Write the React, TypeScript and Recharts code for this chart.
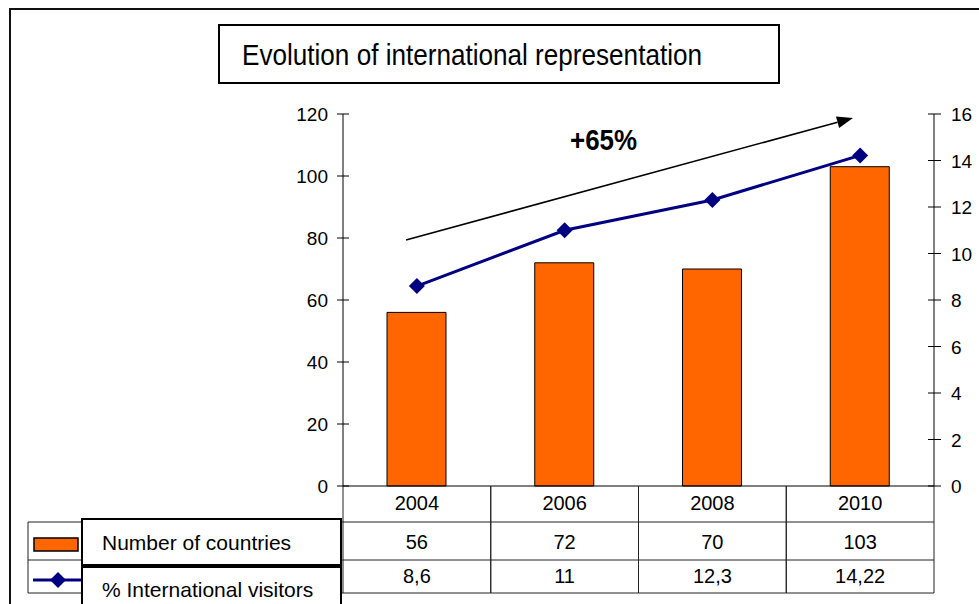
import React from "react";
import {
  ComposedChart,
  Bar,
  Line,
  XAxis,
  YAxis,
  Customized,
} from "recharts";

const years = ["2004", "2006", "2008", "2010"];
const countries = [56, 72, 70, 103];
const visitors = [8.6, 11, 12.3, 14.22];
const leftTicks = [0, 20, 40, 60, 80, 100, 120];
const rightTicks = [0, 2, 4, 6, 8, 10, 12, 14, 16];

const data = years.map((year, i) => ({
  year,
  countries: countries[i],
  visitors: visitors[i],
}));

const W = 979;
const H = 604;
const PLOT_LEFT = 343;
const PLOT_RIGHT = 934;
const PLOT_TOP = 114;
const PLOT_BOTTOM = 486;
const BAND = (PLOT_RIGHT - PLOT_LEFT) / years.length;
const ROW1 = 522;
const ROW2 = 560;
const ROW3 = 593;
const FONT = "'Liberation Sans', Arial, sans-serif";
const ORANGE = "#FF6600";
const NAVY = "#000080";
const LINE_COLOR = "#222";

const fmt = (v: number) => String(v).replace(".", ",");

const LeftTick = (props: any) => {
  const { y, payload } = props;
  return (
    <g>
      <line x1={PLOT_LEFT - 6} x2={PLOT_LEFT + 6} y1={y} y2={y} stroke="#000" />
      <text x={328} y={y} dy={7} textAnchor="end" fontSize={19} fill="#000" fontFamily={FONT}>
        {payload.value}
      </text>
    </g>
  );
};

const RightTick = (props: any) => {
  const { y, payload } = props;
  return (
    <g>
      <line x1={PLOT_RIGHT - 6} x2={PLOT_RIGHT + 7} y1={y} y2={y} stroke="#000" />
      <text x={951} y={y} dy={7} textAnchor="start" fontSize={19} fill="#000" fontFamily={FONT}>
        {payload.value}
      </text>
    </g>
  );
};

// each x tick draws its column of the data table
const TableTick = (props: any) => {
  const { x, index } = props;
  const left = x - BAND / 2;
  const right = x + BAND / 2;
  return (
    <g fontFamily={FONT} fontSize={20} fill="#000">
      <line x1={left} x2={left} y1={PLOT_BOTTOM} y2={ROW3} stroke={LINE_COLOR} />
      <line x1={right} x2={right} y1={PLOT_BOTTOM} y2={ROW3} stroke={LINE_COLOR} />
      <line x1={left} x2={right} y1={ROW1} y2={ROW1} stroke={LINE_COLOR} />
      <line x1={left} x2={right} y1={ROW2} y2={ROW2} stroke={LINE_COLOR} />
      <line x1={left} x2={right} y1={ROW3} y2={ROW3} stroke={LINE_COLOR} />
      <text x={x} y={510} textAnchor="middle">{years[index]}</text>
      <text x={x} y={549} textAnchor="middle">{countries[index]}</text>
      <text x={x} y={583} textAnchor="middle">{fmt(visitors[index])}</text>
    </g>
  );
};

const Diamond = (props: any) => {
  const { cx, cy, index } = props;
  const r = 8;
  return (
    <polygon
      key={`d-${index}`}
      points={`${cx},${cy - r} ${cx + r},${cy} ${cx},${cy + r} ${cx - r},${cy}`}
      fill={NAVY}
    />
  );
};

const Decor = () => {
  const ax = 406;
  const ay = 240;
  const bx = 853;
  const by = 118;
  const len = Math.hypot(bx - ax, by - ay);
  const ux = (bx - ax) / len;
  const uy = (by - ay) / len;
  const hl = 16;
  const hw = 6;
  const baseX = bx - ux * hl;
  const baseY = by - uy * hl;
  const head = `${bx},${by} ${baseX - uy * hw},${baseY + ux * hw} ${baseX + uy * hw},${baseY - ux * hw}`;
  return (
    <g fontFamily={FONT}>
      <rect x={10} y={9} width={1000} height={700} fill="none" stroke="#111" strokeWidth={2} />
      <rect x={219} y={25} width={560} height={58} fill="#fff" stroke="#000" strokeWidth={2} />
      <text x={242} y={65} fontSize={29} fill="#000" textLength={460} lengthAdjust="spacingAndGlyphs">
        Evolution of international representation
      </text>

      <line x1={ax} y1={ay} x2={baseX} y2={baseY} stroke="#000" strokeWidth={1.6} />
      <polygon points={head} fill="#000" />
      <text x={570} y={150} fontSize={30} fontWeight="bold" fill="#000" textLength={67} lengthAdjust="spacingAndGlyphs">
        +65%
      </text>

      {/* legend column of the data table */}
      <line x1={28} x2={PLOT_LEFT} y1={ROW1} y2={ROW1} stroke={LINE_COLOR} />
      <line x1={28} x2={PLOT_LEFT} y1={ROW2} y2={ROW2} stroke={LINE_COLOR} />
      <line x1={28} x2={PLOT_LEFT} y1={ROW3} y2={ROW3} stroke={LINE_COLOR} />
      <line x1={28} x2={28} y1={ROW1} y2={ROW3} stroke={LINE_COLOR} />
      <rect x={34} y={538} width={44} height={13} fill={ORANGE} stroke="#000" strokeWidth={1.5} />
      <line x1={33} x2={82} y1={580} y2={580} stroke={NAVY} strokeWidth={3} />
      <polygon points="58,572 66,580 58,588 50,580" fill={NAVY} />

      <rect x={82} y={519} width={259} height={46} fill="#fff" stroke="#000" strokeWidth={2} />
      <text x={102} y={550} fontSize={21} fill="#000">Number of countries</text>
      <rect x={82} y={567} width={259} height={60} fill="#fff" stroke="#000" strokeWidth={2} />
      <text x={102} y={597} fontSize={21} fill="#000">% International visitors</text>
    </g>
  );
};

export default function App() {
  return (
    <div style={{ position: "fixed", left: 0, top: 0, width: W, height: H, background: "#fff" }}>
      <ComposedChart
        width={W}
        height={H}
        data={data}
        margin={{ top: PLOT_TOP, left: PLOT_LEFT - 60, right: W - PLOT_RIGHT - 45, bottom: 0 }}
        style={{ fontFamily: FONT }}
      >
        <Customized component={<Decor />} />
        <XAxis
          dataKey="year"
          height={H - PLOT_BOTTOM}
          axisLine={{ stroke: "#000" }}
          tickLine={false}
          tick={<TableTick />}
          interval={0}
        />
        <YAxis
          yAxisId="left"
          width={60}
          domain={[0, 120]}
          ticks={leftTicks}
          axisLine={{ stroke: "#000" }}
          tickLine={false}
          tick={<LeftTick />}
          interval={0}
        />
        <YAxis
          yAxisId="right"
          orientation="right"
          width={45}
          domain={[0, 16]}
          ticks={rightTicks}
          axisLine={{ stroke: "#000" }}
          tickLine={false}
          tick={<RightTick />}
          interval={0}
        />
        <Bar
          yAxisId="left"
          dataKey="countries"
          fill={ORANGE}
          stroke="#000"
          strokeWidth={1}
          barSize={59}
          isAnimationActive={false}
        />
        <Line
          yAxisId="right"
          dataKey="visitors"
          type="linear"
          stroke={NAVY}
          strokeWidth={3}
          dot={Diamond}
          activeDot={false}
          isAnimationActive={false}
        />
      </ComposedChart>
    </div>
  );
}
